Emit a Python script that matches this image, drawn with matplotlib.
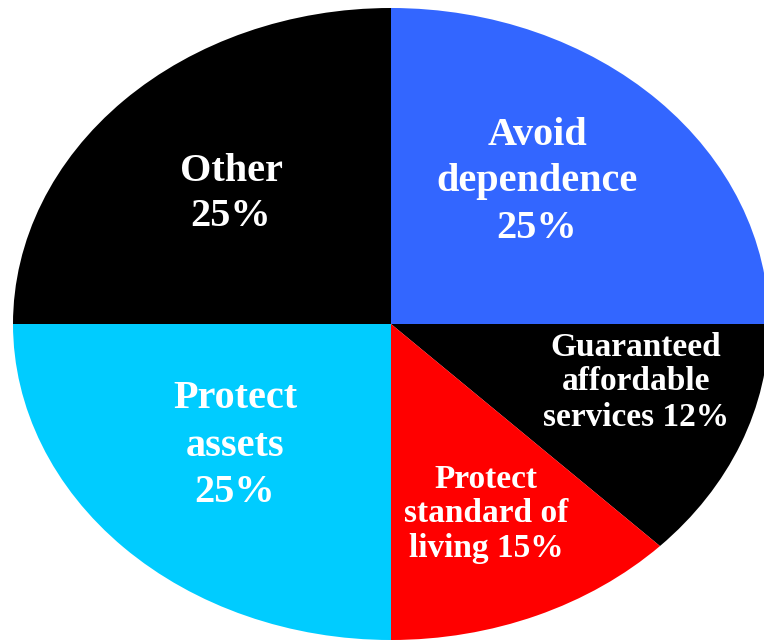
import matplotlib
matplotlib.use('Agg')
import matplotlib.pyplot as plt

# Slice shares as drawn (printed labels are kept as text below)
categories = ['Avoid dependence', 'Guaranteed affordable services',
              'Protect standard of living', 'Protect assets', 'Other']
shares = [25, 12.4, 12.6, 25, 25]
colors = ['#3366FF', '#000000', '#FF0000', '#00CCFF', '#000000']

# Label lines for each slice
label_lines = [
    ['Avoid', 'dependence', '25%'],
    ['Guaranteed', 'affordable', 'services 12%'],
    ['Protect', 'standard of', 'living 15%'],
    ['Protect', 'assets', '25%'],
    ['Other', '25%'],
]

W, H = 764, 641
fig = plt.figure(figsize=(W / 100, H / 100), dpi=100)
ax = fig.add_axes([0, 0, 1, 1])

ax.pie(shares, colors=colors, startangle=90, counterclock=False,
       radius=1, wedgeprops=dict(linewidth=0))
ax.set_aspect('auto')

# ellipse: centre (391, 324) px, radii 378 x 316 px
cx, cy, rx, ry = 391, 324, 378, 316
ax.set_xlim(-cx / rx, (W - cx) / rx)
ax.set_ylim(-(H - cy) / ry, cy / ry)
ax.axis('off')

# text placement in pixels (x centre, first line y, line step, size)
placements = [
    (537, 136, 46, 29),
    (636, 347, 35, 24),
    (486, 479, 35, 24),
    (235, 399, 47, 29),
    (231, 171, 46, 29),
]

for lines, (px, py, step, size) in zip(label_lines, placements):
    for i, line in enumerate(lines):
        fig.text(px / W, 1 - (py + i * step) / H, line, ha='center', va='center',
                 color='white', fontsize=size, fontweight='bold',
                 family='Liberation Serif')

plt.savefig('out.png', dpi=100)
